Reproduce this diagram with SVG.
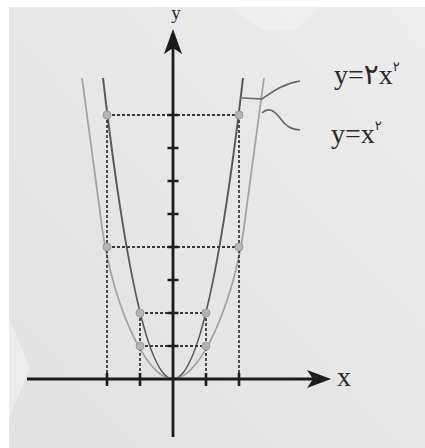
<svg xmlns="http://www.w3.org/2000/svg" width="425" height="448" viewBox="0 0 425 448">
  <defs>
    <linearGradient id="paper" x1="1" y1="0" x2="0" y2="1">
      <stop offset="0" stop-color="#ececec"/>
      <stop offset="1" stop-color="#e1e1e1"/>
    </linearGradient>
    <style>
      .axis { stroke: #1c1c1c; stroke-width: 2.8; fill: none; }
      .arrow { fill: #1c1c1c; stroke: none; }
      .tick { stroke: #1e1e1e; stroke-width: 2.6; fill: none; }
      .dash { stroke: #3a3a3a; stroke-width: 1.8; stroke-dasharray: 3 2; fill: none; }
      .curve2 { stroke: #585858; stroke-width: 2; fill: none; }
      .curve1 { stroke: #a2a2a2; stroke-width: 1.8; fill: none; }
      .pt { fill: #b4b4b4; stroke: #9a9a9a; stroke-width: 1; }
      .leader { stroke: #666; stroke-width: 1.6; fill: none; }
      .lbl { font-family: "Liberation Serif", "DejaVu Sans", serif; fill: #2a2a2a; }
      .sup { font-family: "DejaVu Sans", "Liberation Serif", sans-serif; fill: #2a2a2a; }
    </style>
  </defs>

  <!-- paper -->
  <rect x="0" y="0" width="425" height="448" fill="#ffffff"/>
  <rect x="9" y="7" width="416" height="441" fill="url(#paper)"/>
  <polygon points="226,7 322,7 296,30 262,30" fill="#f4f4f4" opacity="0.5"/>
  <polygon points="9,318 30,368 9,418" fill="#f4f4f4" opacity="0.6"/>

  <!-- curves -->
  <g id="curve-2x2">
    <path class="curve2" d="M 103 78 Q 173 680 243 78"/>
  </g>
  <g id="curve-x2">
    <path class="curve1" d="M 82 78 L 100 212 C 110 300 145 379 173 379 C 201 379 236 300 246 212 L 264 78"/>
  </g>

  <!-- connectors: dashed guides and leaders -->
  <g id="connectors">
    <path class="dash" d="M 107 115 H 239 M 107 247 H 239 M 140 313 H 206 M 140 346 H 206"/>
    <path class="dash" d="M 107 115 V 379 M 239 115 V 379 M 140 313 V 379 M 206 313 V 379"/>
    <path class="leader" d="M 242 98 L 262 99 C 272 92 282 84 300 81"/>
    <path class="leader" d="M 262 113 C 268 107 274 110 280 118 C 286 127 292 130 300 130"/>
  </g>

  <!-- axes -->
  <g id="axes">
    <line class="axis" x1="27" y1="379" x2="316" y2="379"/>
    <path class="arrow" d="M 331 379 L 307 370 L 313 379 L 307 388 Z"/>
    <line class="axis" x1="173" y1="437" x2="173" y2="44"/>
    <path class="arrow" d="M 173 29 L 164 54 L 173 48 L 182 54 Z"/>
    <path class="tick" d="M 167.5 346 H 178.5 M 167.5 313 H 178.5 M 167.5 280 H 178.5 M 167.5 247 H 178.5 M 167.5 214 H 178.5 M 167.5 181 H 178.5 M 167.5 148 H 178.5 M 167.5 115 H 178.5"/>
    <path class="tick" d="M 107 373 V 386 M 140 373 V 386 M 206 373 V 386 M 239 373 V 386"/>
  </g>

  <!-- points -->
  <g id="points">
    <circle class="pt" cx="107" cy="115" r="4"/>
    <circle class="pt" cx="239" cy="115" r="4"/>
    <circle class="pt" cx="107" cy="247" r="4"/>
    <circle class="pt" cx="239" cy="247" r="4"/>
    <circle class="pt" cx="140" cy="313" r="4"/>
    <circle class="pt" cx="206" cy="313" r="4"/>
    <circle class="pt" cx="140" cy="346" r="4"/>
    <circle class="pt" cx="206" cy="346" r="4"/>
  </g>

  <!-- labels -->
  <g id="label-y-axis">
    <text class="lbl" x="176" y="19" font-size="19" text-anchor="middle">y</text>
  </g>
  <g id="label-x-axis">
    <text class="lbl" x="337" y="386" font-size="28">x</text>
  </g>
  <g id="label-2x2">
    <text class="lbl" x="334" y="84" font-size="28">y=۲x<tspan class="sup" font-size="13" dy="-13">۲</tspan></text>
  </g>
  <g id="label-x2">
    <text class="lbl" x="331" y="143" font-size="28">y=x<tspan class="sup" font-size="13" dy="-13">۲</tspan></text>
  </g>
</svg>
